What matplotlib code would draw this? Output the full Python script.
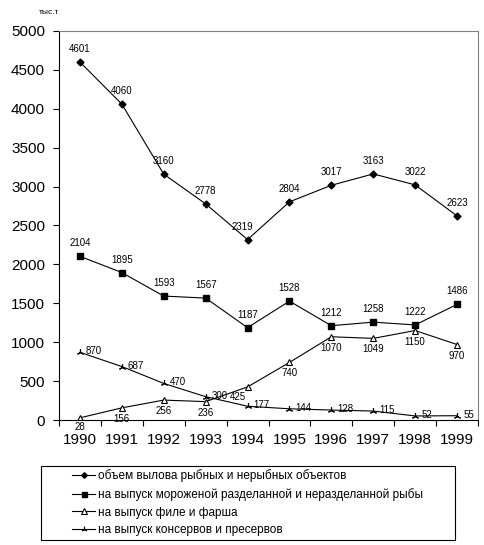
import matplotlib
matplotlib.use('Agg')
import matplotlib.pyplot as plt
from matplotlib.patches import Rectangle

plt.rcParams['font.family'] = ['Liberation Sans', 'DejaVu Sans']

years = [1990, 1991, 1992, 1993, 1994, 1995, 1996, 1997, 1998, 1999]
catch = [4601, 4060, 3160, 2778, 2319, 2804, 3017, 3163, 3022, 2623]
frozen = [2104, 1895, 1593, 1567, 1187, 1528, 1212, 1258, 1222, 1486]
fillet = [28, 156, 256, 236, 425, 740, 1070, 1049, 1150, 970]
canned = [870, 687, 470, 300, 177, 144, 128, 115, 52, 55]

names = ['объем вылова рыбных и нерыбных объектов',
         'на выпуск мороженой разделанной и неразделанной рыбы',
         'на выпуск филе и фарша',
         'на выпуск консервов и пресервов']

fig = plt.figure(figsize=(4.84, 5.45), dpi=100)
ax = fig.add_axes([59/484, 1-420/545, (478-59)/484, (420-31)/545])

x = list(range(len(years)))
lw = 0.8
l1, = ax.plot(x, catch, color='black', lw=lw, marker='D', ms=3.5, mfc='black')
l2, = ax.plot(x, frozen, color='black', lw=lw, marker='s', ms=4.5, mfc='black')
l3, = ax.plot(x, fillet, color='black', lw=lw, marker='^', ms=5, mfc='white', mew=0.8)
l4, = ax.plot(x, canned, color='black', lw=lw, marker=(3, 2, 0), ms=5, mew=0.8)

fs = 7
for i, v in enumerate(catch):
    dx = -5 if i == 4 else 0
    ax.annotate(str(v), (i, v), xytext=(dx, 13), textcoords='offset pixels',
                ha='center', va='center', fontsize=fs)
for i, v in enumerate(frozen):
    ax.annotate(str(v), (i, v), xytext=(0, 13), textcoords='offset pixels',
                ha='center', va='center', fontsize=fs)
for i, v in enumerate(fillet):
    if i == 4:
        off = (-10, -10)
    elif i == 0:
        off = (0, -9)
    else:
        off = (0, -11)
    ax.annotate(str(v), (i, v), xytext=off, textcoords='offset pixels',
                ha='center', va='center', fontsize=fs)
for i, v in enumerate(canned):
    ax.annotate(str(v), (i, v), xytext=(6, 1), textcoords='offset pixels',
                ha='left', va='center', fontsize=fs)

ax.set_xlim(-0.5, len(years) - 0.5)
ax.set_ylim(0, 5000)
ax.set_yticks(range(0, 5001, 500))
ax.set_xticks(x)
ax.set_xticklabels([str(y) for y in years], fontsize=11)
ax.set_xticks([i + 0.5 for i in range(-1, len(years))], minor=True)
ax.tick_params(axis='x', which='major', length=0, pad=9)
ax.tick_params(axis='x', which='minor', length=4, direction='out', width=0.8)
ax.tick_params(axis='y', length=4, direction='out', width=0.8, labelsize=11, pad=6)

for s in ['top', 'right']:
    ax.spines[s].set_color('gray')
    ax.spines[s].set_linestyle((0, (1, 1)))
    ax.spines[s].set_linewidth(0.8)
for s in ['left', 'bottom']:
    ax.spines[s].set_linewidth(0.8)

fig.text(49/484, 1-13/545, 'тыс.т', fontsize=6, ha='center', va='center')

fig.patches.append(Rectangle((41/484, 1-540/545), (455-41)/484, 74/545,
                             transform=fig.transFigure, fill=False,
                             edgecolor='black', lw=0.8))
fig.legend([l1, l2, l3, l4], names, loc='upper left',
           bbox_to_anchor=(70/484, 1-467/545), frameon=False,
           fontsize=8.5, handlelength=1.9, handletextpad=0.3,
           labelspacing=0.48, borderaxespad=0, borderpad=0.2, markerscale=0.8)

fig.savefig('out.png', dpi=100)
